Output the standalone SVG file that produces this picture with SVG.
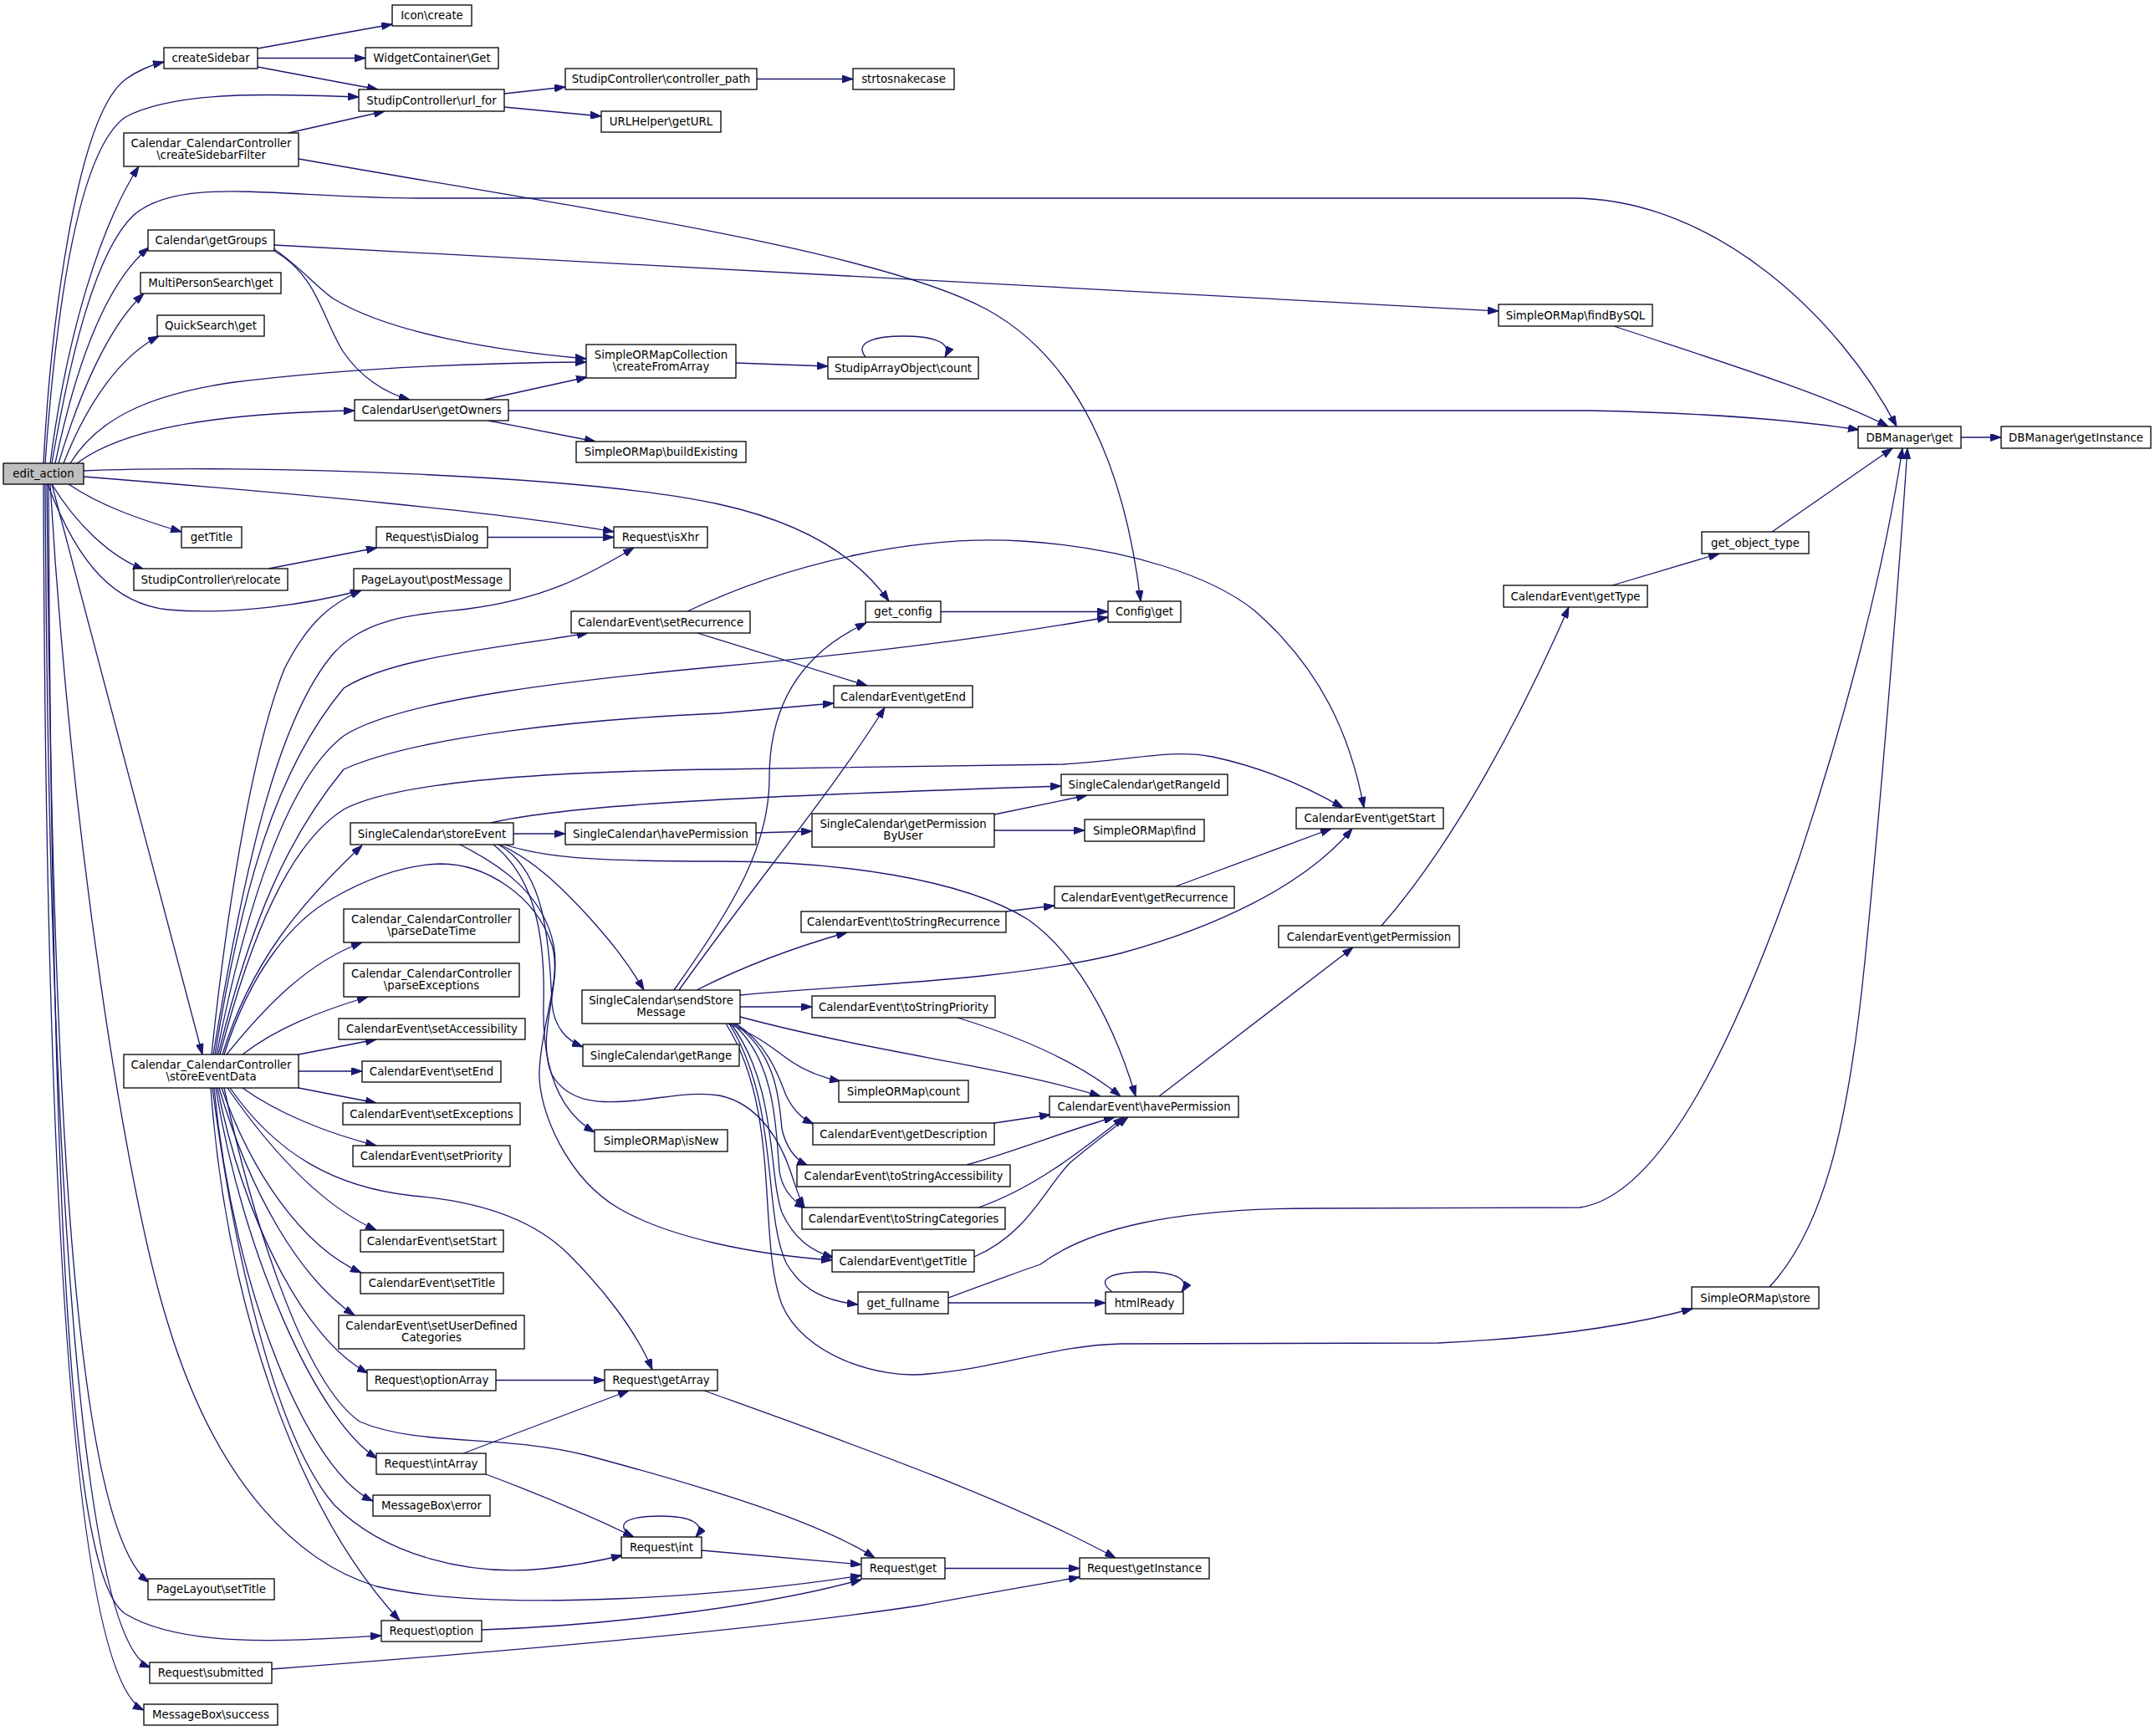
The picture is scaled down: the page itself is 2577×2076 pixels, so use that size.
<svg xmlns="http://www.w3.org/2000/svg" width="2577" height="2076" viewBox="0 0 2577 2076">
<defs>
<style>
.node rect{fill:#fff;stroke:#000;stroke-width:1.3}
.node text{font-family:"DejaVu Sans","Liberation Sans",sans-serif;font-size:13.33px;text-anchor:middle;fill:#000}
.edges path{fill:none;stroke:#191970;stroke-width:1.3;marker-end:url(#ah)}
</style>
<marker id="ah" viewBox="0 0 13 9" refX="13" refY="4.5" markerWidth="13" markerHeight="9" markerUnits="userSpaceOnUse" orient="auto"><path d="M0,0 L13,4.5 L0,9 z" fill="#191970" stroke="#191970" stroke-width="1"/></marker>
</defs>
<rect width="2577" height="2076" fill="#fff"/>
<g class="edges" id="connectors">
<path d="M52,554 C60,400 90,140 150,95 C165,84 180,78 196,74"/>
<path d="M54,554 C70,330 100,175 150,140 C210,108 330,112 429,116"/>
<path d="M60,554 C80,400 120,270 166,199"/>
<path d="M62,554 C85,420 115,300 160,257 C215,210 330,236 500,237 L1880,237 C2050,237 2200,380 2268,510"/>
<path d="M66,554 C90,440 125,340 178,296"/>
<path d="M70,554 C95,470 130,390 172,351"/>
<path d="M76,554 C105,480 145,425 190,402"/>
<path d="M84,554 C120,495 190,470 280,457 C420,440 560,434 701,433"/>
<path d="M92,554 C150,510 270,494 424,491"/>
<path d="M100,563 C300,555 700,568 860,603 C960,625 1025,665 1063,719"/>
<path d="M100,570 C350,590 600,612 734,636"/>
<path d="M82,579 C120,605 170,622 217,636"/>
<path d="M62,579 C90,625 130,665 172,681"/>
<path d="M57,579 C95,680 140,722 200,729 C280,736 370,722 432,706"/>
<path d="M62,579 L242,1261"/>
<path d="M60,579 C85,1000 150,1420 200,1580 C260,1780 360,1870 450,1897 C600,1932 900,1905 1030,1884"/>
<path d="M56,579 C62,1200 80,1820 178,1892"/>
<path d="M58,579 C62,1400 80,1885 150,1930 C220,1972 350,1962 456,1956"/>
<path d="M54,579 C58,1300 90,1960 180,1994"/>
<path d="M52,579 C54,1300 78,2000 172,2045"/>
<path d="M308,58 L469,29"/>
<path d="M308,69.5 L437,69.5"/>
<path d="M308,80 L452,107"/>
<path d="M603,112 L676,104"/>
<path d="M603,128 L719,139"/>
<path d="M905,94.5 L1020,94.5"/>
<path d="M345,159 L460,133"/>
<path d="M357,190 C700,250 1050,300 1180,370 C1290,430 1345,560 1364,719"/>
<path d="M328,293 L1792,372"/>
<path d="M328,298 C360,320 380,345 400,358 C470,400 600,420 701,429"/>
<path d="M328,300 C380,330 385,380 410,420 C430,450 460,470 490,478"/>
<path d="M579,478 L702,451"/>
<path d="M608,491 L1900,491 C2050,494 2150,503 2223,514"/>
<path d="M584,503 L712,528"/>
<path d="M880,434 L990,438"/>
<path d="M1035,427 C1020,408 1050,402 1080,402 C1112,402 1140,408 1130,427"/>
<path d="M1930,390 C2050,430 2180,470 2258,510"/>
<path d="M2345,523 L2393,523"/>
<path d="M2119,636 L2263,536"/>
<path d="M1928,700 L2056,662"/>
<path d="M1652,1107 C1720,1030 1800,900 1876,726"/>
<path d="M2116,1539 C2180,1470 2210,1350 2230,1150 C2250,950 2270,700 2281,536"/>
<path d="M1134,1552 C1180,1535 1215,1522 1244,1512 C1300,1470 1400,1445 1573,1445 L1889,1444 C1990,1430 2080,1230 2150,1030 C2200,880 2250,700 2275,536"/>
<path d="M1386,1311 L1618,1133"/>
<path d="M1406,1060 L1592,991"/>
<path d="M1203,1090 L1261,1083"/>
<path d="M321,680 L451,655"/>
<path d="M583,642.5 L734,642.5"/>
<path d="M1125,731.5 L1325,731.5"/>
<path d="M822,731 C950,670 1100,640 1222,647 C1350,655 1450,690 1500,730 C1580,800 1615,880 1631,966"/>
<path d="M834,757 L1037,820"/>
<path d="M614,997 L676,997"/>
<path d="M587,984 C680,962 900,952 1269,940"/>
<path d="M603,1010 C650,1025 700,1030 860,1030 C1000,1030 1150,1050 1230,1100 C1300,1150 1340,1250 1358,1311"/>
<path d="M598,1010 C640,1030 670,1060 700,1092 C730,1125 750,1150 770,1184"/>
<path d="M596,1010 C650,1040 657,1120 660,1200 C663,1230 678,1244 697,1252"/>
<path d="M590,1010 C640,1050 652,1120 650,1200 C648,1280 670,1330 711,1354"/>
<path d="M550,1010 C600,1035 650,1070 662,1130 C672,1180 640,1240 660,1285 C680,1320 720,1320 760,1316 C800,1312 830,1305 860,1310 C910,1320 935,1370 945,1400 C952,1420 955,1432 962,1444"/>
<path d="M904,996 L971,994"/>
<path d="M1189,974 L1300,951"/>
<path d="M1189,993 L1297,993"/>
<path d="M806,1184 C880,1080 920,1010 920,930 C920,840 960,780 1036,745"/>
<path d="M812,1184 C900,1060 1000,940 1058,846"/>
<path d="M833,1184 C900,1150 960,1130 1013,1115"/>
<path d="M885,1190 C1000,1178 1200,1175 1340,1140 C1450,1110 1560,1060 1617,991"/>
<path d="M885,1204 L971,1204"/>
<path d="M885,1216 C1050,1260 1200,1275 1316,1311"/>
<path d="M870,1224 C900,1235 920,1250 940,1265 C960,1280 980,1288 1005,1293"/>
<path d="M880,1224 C920,1250 932,1290 940,1310 C950,1330 960,1338 973,1344"/>
<path d="M878,1224 C930,1260 932,1320 935,1350 C940,1372 950,1386 966,1394"/>
<path d="M876,1224 C930,1270 928,1360 932,1400 C935,1422 948,1436 963,1445"/>
<path d="M874,1224 C930,1300 918,1400 935,1450 C950,1482 970,1496 997,1504"/>
<path d="M872,1224 C932,1320 912,1450 940,1510 C960,1545 990,1556 1026,1560"/>
<path d="M868,1224 C935,1330 905,1480 935,1560 C960,1620 1050,1650 1110,1643 C1200,1635 1260,1609 1340,1607 L1720,1606 C1850,1600 1950,1585 2024,1565"/>
<path d="M1145,1217 C1220,1240 1290,1270 1340,1311"/>
<path d="M1189,1343 L1256,1333"/>
<path d="M1156,1393 C1220,1375 1280,1350 1333,1336"/>
<path d="M1170,1444 C1240,1420 1300,1370 1344,1336"/>
<path d="M1165,1503 C1230,1475 1250,1420 1280,1390 C1310,1365 1330,1350 1349,1336"/>
<path d="M1134,1558 L1322,1558"/>
<path d="M1330,1545 C1305,1526 1340,1521 1370,1521 C1400,1521 1425,1528 1413,1545"/>
<path d="M253,1261 C270,1100 300,900 340,800 C370,740 400,720 432,706"/>
<path d="M255,1261 C290,1050 330,860 400,780 C440,737 500,735 560,728 C650,716 700,690 758,655"/>
<path d="M257,1261 C290,1060 330,920 411,823 C470,785 600,775 703,757"/>
<path d="M259,1261 C295,1080 345,930 411,880 C480,835 700,812 860,797 C1050,780 1200,760 1325,738"/>
<path d="M261,1261 C300,1100 345,1000 411,920 C500,880 700,860 860,853 L997,841"/>
<path d="M263,1261 C300,1120 345,1010 411,968 C480,930 700,922 860,920 L1271,914 C1350,910 1400,895 1450,905 C1520,920 1570,945 1606,966"/>
<path d="M266,1261 C300,1150 360,1080 433,1011"/>
<path d="M268,1261 C300,1160 350,1100 400,1073 C450,1045 490,1034 527,1033 C580,1033 640,1070 660,1130 C672,1170 648,1220 645,1280 C643,1330 680,1410 740,1445 C800,1480 900,1500 995,1507"/>
<path d="M271,1261 C320,1200 370,1150 433,1127"/>
<path d="M290,1261 C330,1230 380,1210 440,1192"/>
<path d="M357,1261 L450,1243"/>
<path d="M357,1281 L433,1281"/>
<path d="M357,1301 L450,1319"/>
<path d="M290,1301 C330,1330 390,1355 450,1370"/>
<path d="M272,1301 C320,1370 380,1440 450,1471"/>
<path d="M265,1301 C300,1400 360,1490 432,1522"/>
<path d="M262,1301 C300,1430 360,1530 424,1573"/>
<path d="M260,1301 C290,1450 360,1600 440,1642"/>
<path d="M275,1301 C330,1380 400,1420 494,1430 C580,1437 640,1460 680,1500 C720,1540 760,1590 780,1638"/>
<path d="M268,1301 C300,1450 360,1650 430,1700 C500,1730 600,1715 700,1740 C850,1780 980,1820 1046,1863"/>
<path d="M258,1301 C290,1500 380,1700 451,1744"/>
<path d="M256,1301 C280,1550 370,1760 446,1795"/>
<path d="M254,1301 C280,1500 330,1720 400,1800 C460,1860 560,1885 650,1876 C690,1872 715,1867 744,1860"/>
<path d="M252,1301 C270,1550 350,1800 478,1938"/>
<path d="M554,1738 L752,1663"/>
<path d="M581,1763 C640,1785 700,1810 758,1838"/>
<path d="M593,1650.5 L723,1650.5"/>
<path d="M755,1838 C730,1818 760,1813 790,1813 C825,1813 845,1822 832,1838"/>
<path d="M839,1854 L1030,1871"/>
<path d="M576,1949 C700,1945 900,1925 1030,1889"/>
<path d="M325,1996 C600,1975 900,1950 1100,1920 C1180,1905 1240,1895 1291,1886"/>
<path d="M842,1663 C1000,1720 1200,1790 1334,1863"/>
<path d="M1130,1875.5 L1291,1875.5"/>
</g>
<g class="node" id="edit_action"><rect x="4" y="554" width="96" height="25" style="fill:#bfbfbf"/><text x="52" y="571">edit_action</text></g>
<g class="node" id="createSidebar"><rect x="196" y="57" width="112" height="25"/><text x="252" y="74">createSidebar</text></g>
<g class="node" id="icon_create"><rect x="469" y="6" width="95" height="25"/><text x="516.5" y="23">Icon\create</text></g>
<g class="node" id="widgetcontainer_get"><rect x="437" y="57" width="159" height="25"/><text x="516.5" y="74">WidgetContainer\Get</text></g>
<g class="node" id="url_for"><rect x="429" y="107" width="174" height="26"/><text x="516" y="124.5">StudipController\url_for</text></g>
<g class="node" id="controller_path"><rect x="676" y="82" width="229" height="25"/><text x="790.5" y="99">StudipController\controller_path</text></g>
<g class="node" id="strtosnakecase"><rect x="1020" y="82" width="121" height="25"/><text x="1080.5" y="99">strtosnakecase</text></g>
<g class="node" id="urlhelper_geturl"><rect x="719" y="133" width="143" height="25"/><text x="790.5" y="150">URLHelper\getURL</text></g>
<g class="node" id="createSidebarFilter"><rect x="148" y="159" width="209" height="40"/><text x="252.5" y="175.5">Calendar_CalendarController</text><text x="252.5" y="190">\createSidebarFilter</text></g>
<g class="node" id="getGroups"><rect x="177" y="275" width="151" height="25"/><text x="252.5" y="292">Calendar\getGroups</text></g>
<g class="node" id="multipersonsearch_get"><rect x="168" y="326" width="168" height="25"/><text x="252" y="343">MultiPersonSearch\get</text></g>
<g class="node" id="quicksearch_get"><rect x="188" y="377" width="128" height="25"/><text x="252" y="394">QuickSearch\get</text></g>
<g class="node" id="createFromArray"><rect x="701" y="412" width="179" height="40"/><text x="790.5" y="428.5">SimpleORMapCollection</text><text x="790.5" y="443">\createFromArray</text></g>
<g class="node" id="studiparrayobject_count"><rect x="990" y="427" width="180" height="26"/><text x="1080" y="444.5">StudipArrayObject\count</text></g>
<g class="node" id="getOwners"><rect x="424" y="478" width="184" height="25"/><text x="516" y="495">CalendarUser\getOwners</text></g>
<g class="node" id="buildExisting"><rect x="689" y="528" width="203" height="25"/><text x="790.5" y="545">SimpleORMap\buildExisting</text></g>
<g class="node" id="findBySQL"><rect x="1792" y="364" width="184" height="26"/><text x="1884" y="381.5">SimpleORMap\findBySQL</text></g>
<g class="node" id="dbmanager_get"><rect x="2222" y="510" width="123" height="26"/><text x="2283.5" y="527.5">DBManager\get</text></g>
<g class="node" id="dbmanager_getinstance"><rect x="2393" y="510" width="179" height="26"/><text x="2482.5" y="527.5">DBManager\getInstance</text></g>
<g class="node" id="getTitle"><rect x="217" y="630" width="72" height="25"/><text x="253" y="647">getTitle</text></g>
<g class="node" id="isDialog"><rect x="450" y="630" width="133" height="25"/><text x="516.5" y="647">Request\isDialog</text></g>
<g class="node" id="isXhr"><rect x="734" y="630" width="112" height="25"/><text x="790" y="647">Request\isXhr</text></g>
<g class="node" id="relocate"><rect x="160" y="680" width="184" height="26"/><text x="252" y="697.5">StudipController\relocate</text></g>
<g class="node" id="postMessage"><rect x="423" y="680" width="187" height="26"/><text x="516.5" y="697.5">PageLayout\postMessage</text></g>
<g class="node" id="get_config"><rect x="1035" y="719" width="90" height="25"/><text x="1080" y="736">get_config</text></g>
<g class="node" id="config_get"><rect x="1325" y="719" width="87" height="25"/><text x="1368.5" y="736">Config\get</text></g>
<g class="node" id="setRecurrence"><rect x="683" y="731" width="214" height="26"/><text x="790" y="748.5">CalendarEvent\setRecurrence</text></g>
<g class="node" id="get_object_type"><rect x="2035" y="636" width="128" height="26"/><text x="2099" y="653.5">get_object_type</text></g>
<g class="node" id="getType"><rect x="1798" y="700" width="172" height="26"/><text x="1884" y="717.5">CalendarEvent\getType</text></g>
<g class="node" id="getEnd"><rect x="997" y="820" width="166" height="26"/><text x="1080" y="837.5">CalendarEvent\getEnd</text></g>
<g class="node" id="getRangeId"><rect x="1269" y="926" width="199" height="25"/><text x="1368.5" y="943">SingleCalendar\getRangeId</text></g>
<g class="node" id="getStart"><rect x="1550" y="966" width="176" height="25"/><text x="1638" y="983">CalendarEvent\getStart</text></g>
<g class="node" id="storeEvent"><rect x="419" y="984" width="195" height="26"/><text x="516.5" y="1001.5">SingleCalendar\storeEvent</text></g>
<g class="node" id="sc_havePermission"><rect x="676" y="984" width="228" height="26"/><text x="790" y="1001.5">SingleCalendar\havePermission</text></g>
<g class="node" id="getPermissionByUser"><rect x="971" y="973" width="218" height="40"/><text x="1080" y="989.5">SingleCalendar\getPermission</text><text x="1080" y="1004">ByUser</text></g>
<g class="node" id="simpleormap_find"><rect x="1297" y="980" width="143" height="26"/><text x="1368.5" y="997.5">SimpleORMap\find</text></g>
<g class="node" id="getRecurrence"><rect x="1261" y="1060" width="215" height="26"/><text x="1368.5" y="1077.5">CalendarEvent\getRecurrence</text></g>
<g class="node" id="toStringRecurrence"><rect x="958" y="1090" width="245" height="25"/><text x="1080.5" y="1107">CalendarEvent\toStringRecurrence</text></g>
<g class="node" id="parseDateTime"><rect x="411" y="1087" width="210" height="40"/><text x="516" y="1103.5">Calendar_CalendarController</text><text x="516" y="1118">\parseDateTime</text></g>
<g class="node" id="getPermission"><rect x="1529" y="1107" width="216" height="26"/><text x="1637" y="1124.5">CalendarEvent\getPermission</text></g>
<g class="node" id="parseExceptions"><rect x="411" y="1152" width="210" height="40"/><text x="516" y="1168.5">Calendar_CalendarController</text><text x="516" y="1183">\parseExceptions</text></g>
<g class="node" id="sendStoreMessage"><rect x="696" y="1184" width="189" height="40"/><text x="790.5" y="1200.5">SingleCalendar\sendStore</text><text x="790.5" y="1215">Message</text></g>
<g class="node" id="toStringPriority"><rect x="971" y="1191" width="219" height="26"/><text x="1080.5" y="1208.5">CalendarEvent\toStringPriority</text></g>
<g class="node" id="setAccessibility"><rect x="405" y="1218" width="223" height="25"/><text x="516.5" y="1235">CalendarEvent\setAccessibility</text></g>
<g class="node" id="getRange"><rect x="697" y="1249" width="187" height="26"/><text x="790.5" y="1266.5">SingleCalendar\getRange</text></g>
<g class="node" id="storeEventData"><rect x="148" y="1261" width="209" height="40"/><text x="252.5" y="1277.5">Calendar_CalendarController</text><text x="252.5" y="1292">\storeEventData</text></g>
<g class="node" id="setEnd"><rect x="433" y="1269" width="166" height="25"/><text x="516" y="1286">CalendarEvent\setEnd</text></g>
<g class="node" id="simpleormap_count"><rect x="1003" y="1292" width="155" height="26"/><text x="1080.5" y="1309.5">SimpleORMap\count</text></g>
<g class="node" id="ce_havePermission"><rect x="1255" y="1311" width="226" height="25"/><text x="1368" y="1328">CalendarEvent\havePermission</text></g>
<g class="node" id="setExceptions"><rect x="410" y="1319" width="212" height="26"/><text x="516" y="1336.5">CalendarEvent\setExceptions</text></g>
<g class="node" id="getDescription"><rect x="972" y="1343" width="217" height="26"/><text x="1080.5" y="1360.5">CalendarEvent\getDescription</text></g>
<g class="node" id="isNew"><rect x="711" y="1351" width="159" height="26"/><text x="790.5" y="1368.5">SimpleORMap\isNew</text></g>
<g class="node" id="setPriority"><rect x="422" y="1370" width="188" height="25"/><text x="516" y="1387">CalendarEvent\setPriority</text></g>
<g class="node" id="toStringAccessibility"><rect x="953" y="1393" width="255" height="26"/><text x="1080.5" y="1410.5">CalendarEvent\toStringAccessibility</text></g>
<g class="node" id="toStringCategories"><rect x="959" y="1444" width="243" height="26"/><text x="1080.5" y="1461.5">CalendarEvent\toStringCategories</text></g>
<g class="node" id="setStart"><rect x="431" y="1471" width="171" height="26"/><text x="516.5" y="1488.5">CalendarEvent\setStart</text></g>
<g class="node" id="ce_getTitle"><rect x="995" y="1495" width="170" height="26"/><text x="1080" y="1512.5">CalendarEvent\getTitle</text></g>
<g class="node" id="setTitle"><rect x="431" y="1522" width="171" height="25"/><text x="516.5" y="1539">CalendarEvent\setTitle</text></g>
<g class="node" id="get_fullname"><rect x="1026" y="1545" width="108" height="26"/><text x="1080" y="1562.5">get_fullname</text></g>
<g class="node" id="htmlReady"><rect x="1322" y="1545" width="93" height="26"/><text x="1368.5" y="1562.5">htmlReady</text></g>
<g class="node" id="simpleormap_store"><rect x="2023" y="1539" width="152" height="26"/><text x="2099" y="1556.5">SimpleORMap\store</text></g>
<g class="node" id="setUserDefinedCategories"><rect x="405" y="1573" width="222" height="40"/><text x="516" y="1589.5">CalendarEvent\setUserDefined</text><text x="516" y="1604">Categories</text></g>
<g class="node" id="optionArray"><rect x="439" y="1638" width="154" height="25"/><text x="516" y="1655">Request\optionArray</text></g>
<g class="node" id="getArray"><rect x="723" y="1638" width="135" height="25"/><text x="790.5" y="1655">Request\getArray</text></g>
<g class="node" id="intArray"><rect x="450" y="1738" width="131" height="25"/><text x="515.5" y="1755">Request\intArray</text></g>
<g class="node" id="messagebox_error"><rect x="446" y="1788" width="140" height="25"/><text x="516" y="1805">MessageBox\error</text></g>
<g class="node" id="request_int"><rect x="743" y="1838" width="96" height="25"/><text x="791" y="1855">Request\int</text></g>
<g class="node" id="request_get"><rect x="1030" y="1863" width="100" height="25"/><text x="1080" y="1880">Request\get</text></g>
<g class="node" id="request_getInstance"><rect x="1291" y="1863" width="155" height="25"/><text x="1368.5" y="1880">Request\getInstance</text></g>
<g class="node" id="setTitle_pagelayout"><rect x="177" y="1888" width="151" height="25"/><text x="252.5" y="1905">PageLayout\setTitle</text></g>
<g class="node" id="request_option"><rect x="456" y="1938" width="120" height="25"/><text x="516" y="1955">Request\option</text></g>
<g class="node" id="request_submitted"><rect x="179" y="1988" width="146" height="25"/><text x="252" y="2005">Request\submitted</text></g>
<g class="node" id="messagebox_success"><rect x="172" y="2038" width="160" height="25"/><text x="252" y="2055">MessageBox\success</text></g>
</svg>
